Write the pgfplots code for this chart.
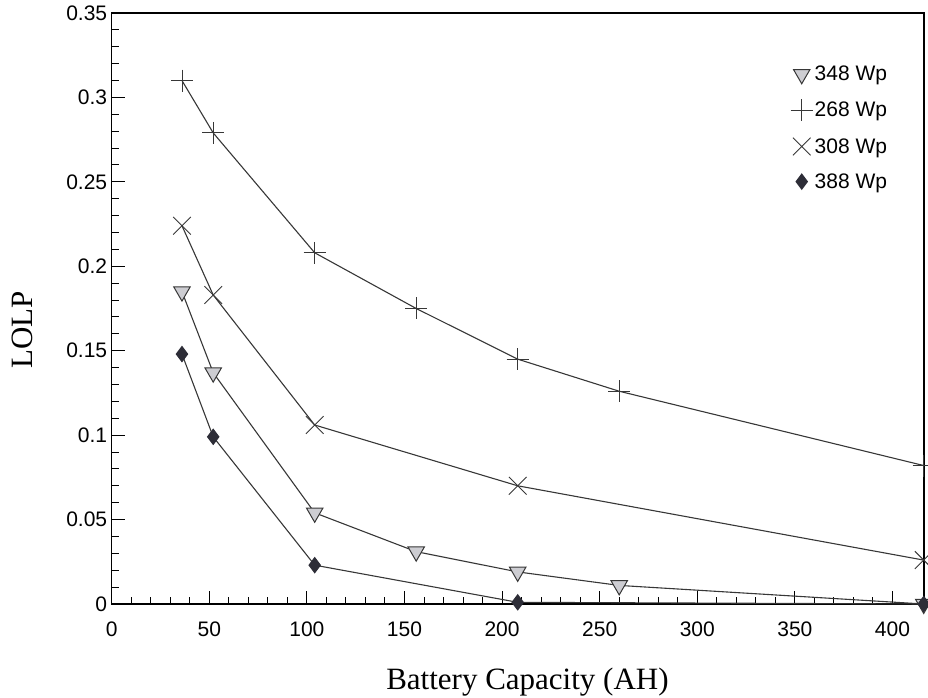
\documentclass[border=0pt]{standalone}
\usepackage{fontspec}
\setmainfont{Liberation Sans}
\newfontfamily\seriffont{Liberation Serif}
\usepackage{pgfplots}
\pgfplotsset{compat=1.18}
\definecolor{linec}{RGB}{55,55,55}
\definecolor{trifill}{RGB}{205,205,210}
\definecolor{diafill}{RGB}{45,45,55}
\begin{document}
\begin{tikzpicture}
\begin{axis}[name=ax, scale only axis, width=812pt, height=591pt,
  xmin=0, xmax=416, ymin=0, ymax=0.35,
  xtick={0,50,100,150,200,250,300,350,400},
  ytick={0,0.05,0.1,0.15,0.2,0.25,0.3,0.35},
  minor x tick num=4, minor y tick num=4,
  tick align=inside, xtick pos=bottom, ytick pos=left,
  major tick length=13pt, minor tick length=7pt,
  axis line style={line width=1.6pt, black},
  every tick/.style={line width=1pt, black},
  tick label style={font=\fontsize{21}{24}\selectfont},
  xticklabel style={yshift=-14pt},
  yticklabel style={xshift=-1pt},
  /pgf/number format/assume math mode=true,
  /pgf/number format/fixed, /pgf/number format/precision=2,
  scaled y ticks=false,
  xlabel={Battery Capacity (AH)}, ylabel={LOLP},
  label style={font=\seriffont\fontsize{31}{34}\selectfont},
  xlabel style={at={(axis description cs:0.512,-0.144)}, anchor=base},
  ylabel style={at={(axis description cs:-0.1099,0.4636)}, anchor=center},
  legend style={draw=none, fill=none, at={(axis description cs:0.836,0.9137)}, anchor=north west,
    font=\fontsize{21}{24}\selectfont, row sep=15pt, inner sep=0pt, cells={anchor=west}},
  legend image code/.code={\draw[#1, only marks] plot coordinates {(0pt,0pt)};},
  every axis plot/.append style={line width=1.1pt, color=linec},
]
\addplot[mark=triangle*, mark size=9.5pt, mark options={rotate=180, fill=trifill, draw=linec, line width=1pt}]
  coordinates {(36,0.185) (52,0.137) (104,0.054) (156,0.031) (208,0.019) (260,0.011) (416,0.000)};
\addlegendentry{348 Wp}
\addplot[mark=+, mark size=11pt, mark options={line width=0.8pt}]
  coordinates {(36,0.310) (52,0.279) (104,0.208) (156,0.175) (208,0.145) (260,0.126) (416,0.082)};
\addlegendentry{268 Wp}
\addplot[mark=x, mark size=12.5pt, mark options={line width=0.9pt}]
  coordinates {(36,0.224) (52,0.183) (104,0.106) (208,0.070) (416,0.026)};
\addlegendentry{308 Wp}
\addplot[mark=diamond*, mark size=7.5pt, mark options={fill=diafill, draw=diafill}]
  coordinates {(36,0.148) (52,0.099) (104,0.023) (208,0.001) (416,0.000)};
\addlegendentry{388 Wp}
\end{axis}
\pgfresetboundingbox
\path ([shift={(-111.7pt,-94pt)}]ax.south west) rectangle ([shift={(816.3pt,604pt)}]ax.south west);
\end{tikzpicture}
\end{document}
